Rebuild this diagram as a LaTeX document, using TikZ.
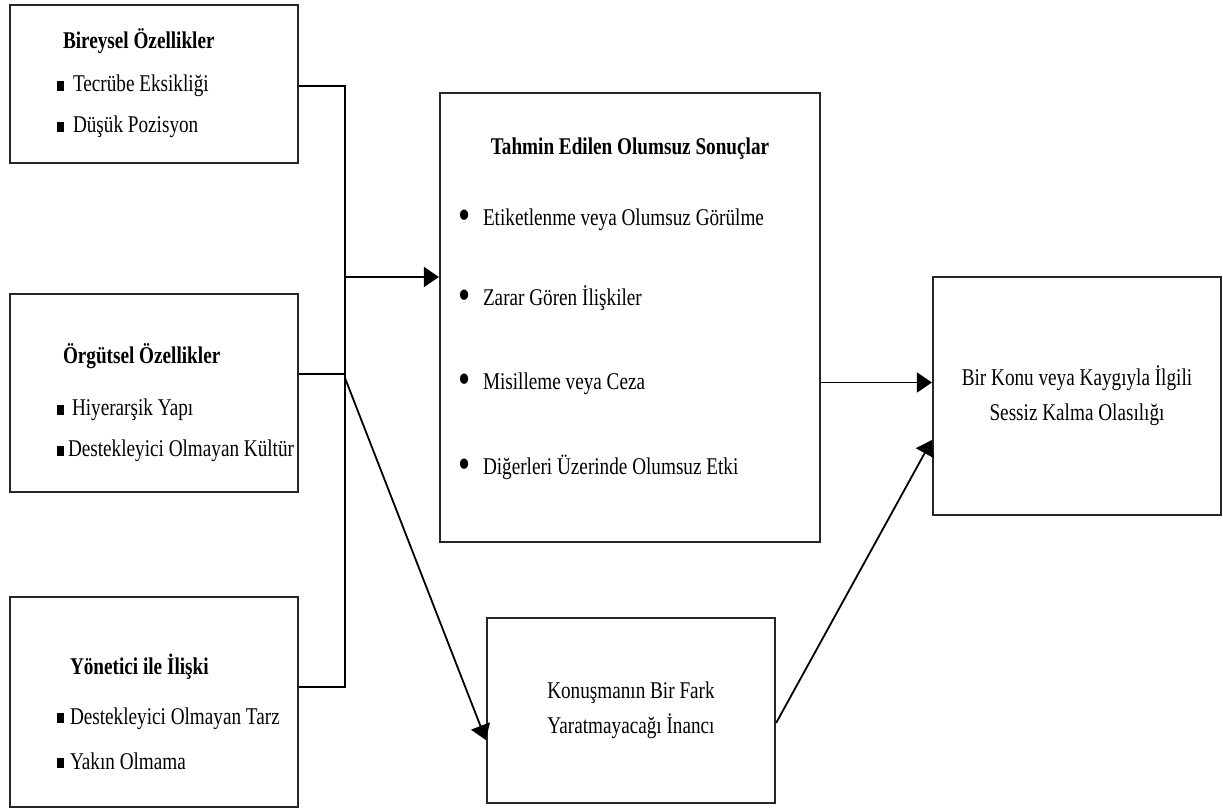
\documentclass[tikz,border=0pt]{standalone}
\usepackage{fontspec}
\setmainfont{Liberation Serif}[FakeStretch=0.8]
\usepackage{graphicx}
\usetikzlibrary{positioning,arrows.meta}
\tikzset{>={Triangle[length=15pt,width=20pt]}}

\newcommand{\kare}{\rule[1pt]{7pt}{10pt}}
\newcommand{\madde}[2][7pt]{\mbox{\kare\hspace{#1}#2}}
\newcommand{\nokta}[1]{\mbox{\makebox[25pt][l]{\raisebox{-4pt}{\scalebox{1.8}{\textbullet}}}#1}}

\begin{document}
\begin{tikzpicture}[x=1pt, y=1pt, node distance=309pt,
    kutu/.style={rectangle, draw=black!85, line width=2.2pt, font=\fontsize{24}{41}\selectfont},
    solkutu/.style={kutu, text width=194pt, inner xsep=47pt, inner ysep=0pt, align=flush left},
    ortakutu/.style={kutu, minimum width=288pt, align=center, font=\fontsize{24}{35}\selectfont},
    cizgi/.style={line width=1.8pt},
    ok/.style={cizgi, ->}]
  \useasboundingbox (0,0) rectangle (1223,809);

  % sol sutun
  \node[solkutu, minimum height=158pt] (bireysel) at (154,725)
    {\hspace*{6pt}\textbf{Bireysel Özellikler}\\[2pt]
     \madde[9pt]{Tecrübe Eksikliği}\\
     \madde[9pt]{Düşük Pozisyon}\rule[-6pt]{0pt}{1pt}};
  \node[solkutu, minimum height=198pt, below of=bireysel] (orgutsel)
    {\rule{0pt}{40pt}\hspace*{6pt}\textbf{Örgütsel Özellikler}\\[11pt]
     \madde[8pt]{Hiyerarşik Yapı}\\
     \madde[4pt]{Destekleyici Olmayan Kültür}};
  \node[solkutu, minimum height=210pt, below of=orgutsel] (yonetici)
    {\rule{0pt}{40pt}\hspace*{13pt}\textbf{Yönetici ile İlişki}\\[9pt]
     \madde[6pt]{Destekleyici Olmayan Tarz}\\[4pt]
     \madde[6pt]{Yakın Olmama}};

  % orta ve sag
  \node[kutu, text width=344pt, inner xsep=18pt, inner ysep=0pt, minimum height=449pt, align=flush left] (sonuclar) at (630,491.5)
    {\hfill\textbf{Tahmin Edilen Olumsuz Sonuçlar}\hfill\mbox{}\\[30pt]
     \nokta{Etiketlenme veya Olumsuz Görülme}\\[39pt]
     \nokta{Zarar Gören İlişkiler}\\[43pt]
     \nokta{Misilleme veya Ceza}\\[44pt]
     \nokta{Diğerleri Üzerinde Olumsuz Etki}\rule[-22pt]{0pt}{1pt}};
  \node[ortakutu, minimum height=185pt] (inanc) at (631,98.5)
    {Konuşmanın Bir Fark\\ Yaratmayacağı İnancı};
  \node[ortakutu, minimum height=238pt] (sessiz) at (1077,413)
    {Bir Konu veya Kaygıyla İlgili\\ Sessiz Kalma Olasılığı};

  % baglantilar
  \coordinate (ust) at (345,723);
  \coordinate (alt) at (345,122);
  \coordinate (orta) at (345,435);
  \coordinate (cikis) at (345,532);
  \coordinate (kol) at (345,431);
  \draw[cizgi] (bireysel.east |- ust) -- (ust) -- (alt) -- (alt -| yonetici.east);
  \draw[cizgi] (orta -| orgutsel.east) -- (orta);
  \draw[ok] (cikis) -- (cikis -| sonuclar.west);
  \draw[ok] (kol) -- ([yshift=-29.5pt]inanc.west);
  \draw[ok] ([yshift=-65pt]sonuclar.east) -- ([yshift=-65pt]sonuclar.east -| sessiz.west);
  \draw[ok] ([yshift=-12.5pt]inanc.east) -- ([yshift=-44pt]sessiz.west);
\end{tikzpicture}
\end{document}
